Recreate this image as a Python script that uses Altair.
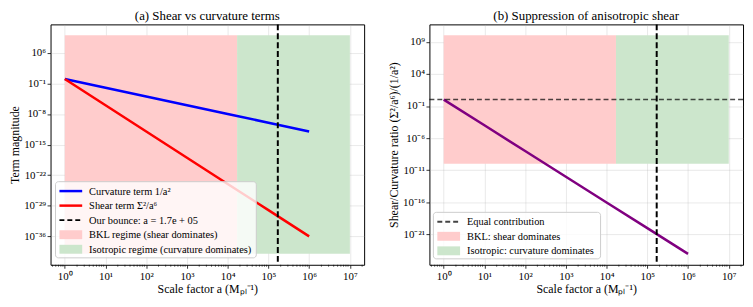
import altair as alt
import pandas as pd

# ---------------- data ----------------
a_vals = [1, 10, 100, 1e3, 1e4, 1e5, 1e6]
curvature = [1, 1e-2, 1e-4, 1e-6, 1e-8, 1e-10, 1e-12]
shear = [1, 1e-6, 1e-12, 1e-18, 1e-24, 1e-30, 1e-36]
ratio = [1, 1e-4, 1e-8, 1e-12, 1e-16, 1e-20, 1e-24]
a_start = 1
a_transition = 1.7e4
a_end = 1e7
a_bounce = 1.7e5
left_shade_y = [1e-40, 1e10]
right_shade_y = [1e-10, 1e10]
equal_ratio = 1

x_tick_exps = [0, 1, 2, 3, 4, 5, 6, 7]
left_y_exps = [6, -1, -8, -15, -22, -29, -36]
right_y_exps = [9, 4, -1, -6, -11, -16, -21]

FONT = "Liberation Serif, Times New Roman, serif"
W, H = 317, 243
PINK = "#ffcccc"
GREEN = "#cce6cc"

SUP = str.maketrans("0123456789-", "⁰¹²³⁴⁵⁶⁷⁸⁹⁻")


def label_expr(exps):
    e = "round(log(datum.value)/LN10)"
    parts = [f"{e} == {k} ? '10{str(k).translate(SUP)}'" for k in exps]
    return " : ".join(parts) + " : ''"


x_scale = alt.Scale(type="log", domain=[10 ** -0.35, 10 ** 7.35], nice=False)
x_axis = alt.Axis(
    values=[10.0 ** k for k in x_tick_exps],
    labelExpr=label_expr(x_tick_exps),
    title="Scale factor a (Mₚₗ⁻¹)",
    grid=True, labelPadding=2, titlePadding=3,
)


def xenc(field="a"):
    return alt.X(f"{field}:Q", scale=x_scale, axis=x_axis)


def yenc(field, scale, axis):
    return alt.Y(f"{field}:Q", scale=scale, axis=axis)


minor_vals = [m * 10.0 ** k for k in range(-1, 8) for m in range(2, 10)
              if 10 ** -0.35 <= m * 10.0 ** k <= 10 ** 7.35]


def panel(title, ytitle, ydom, yexps, lines, shade_y, legend, hline=False, box=None):
    y_scale = alt.Scale(type="log", domain=ydom, nice=False)
    y_axis = alt.Axis(values=[10.0 ** k for k in yexps], labelExpr=label_expr(yexps),
                      title=ytitle, grid=True, labelPadding=1.5, titlePadding=2)
    layers = []
    shade = pd.DataFrame({
        "a": [a_start, a_transition], "a2": [a_transition, a_end],
        "v": [shade_y[0]] * 2, "v2": [shade_y[1]] * 2,
        "region": ["bkl", "iso"],
    })
    layers.append(alt.Chart(shade).mark_rect().encode(
        x=xenc("a"), x2="a2:Q",
        y=yenc("v", y_scale, y_axis), y2="v2:Q",
        color=alt.Color("region:N", scale=alt.Scale(domain=["bkl", "iso"], range=[PINK, GREEN]), legend=None),
    ))
    for vals, col, w in lines:
        df = pd.DataFrame({"a": a_vals, "v": vals})
        layers.append(alt.Chart(df).mark_line(color=col, strokeWidth=w, clip=True).encode(
            x=xenc("a"), y=yenc("v", y_scale, y_axis)))
    if hline:
        layers.append(alt.Chart(pd.DataFrame({"v": [equal_ratio]})).mark_rule(
            color="black", opacity=0.7, strokeWidth=1.5, strokeDash=[5, 3]).encode(
            y=yenc("v", y_scale, y_axis)))
    layers.append(alt.Chart(pd.DataFrame({"a": [a_bounce]})).mark_rule(
        color="black", strokeWidth=2, strokeDash=[6, 3]).encode(x=xenc("a")))
    # minor x ticks
    layers.append(alt.Chart(pd.DataFrame({"a": minor_vals})).mark_rule(
        color="black", strokeWidth=0.6).encode(
        x=xenc("a"), y=alt.value(H), y2=alt.value(H + 2)))
    # legend
    one = pd.DataFrame({"k": [0]})
    bx0, bx1, by0, by1 = box
    layers.append(alt.Chart(one).mark_rect(
        fill="white", fillOpacity=0.8, stroke="#cccccc", strokeWidth=1, cornerRadius=3).encode(
        x=alt.value(bx0), x2=alt.value(bx1), y=alt.value(by0), y2=alt.value(by1)))
    hx0, hx1, tx = bx0 + 4, bx0 + 27, bx0 + 34
    for i, (kind, col, text) in enumerate(legend):
        yy = by0 + 9.5 + i * 14.7
        if kind == "line":
            layers.append(alt.Chart(one).mark_rule(color=col, strokeWidth=2.5).encode(
                x=alt.value(hx0), x2=alt.value(hx1), y=alt.value(yy)))
        elif kind == "dash":
            layers.append(alt.Chart(one).mark_rule(color=col, strokeWidth=1.8, strokeDash=[5, 3]).encode(
                x=alt.value(hx0), x2=alt.value(hx1), y=alt.value(yy)))
        else:
            layers.append(alt.Chart(one).mark_rect(color=col).encode(
                x=alt.value(hx0), x2=alt.value(hx1), y=alt.value(yy - 4.5), y2=alt.value(yy + 4.5)))
        layers.append(alt.Chart(one).mark_text(
            text=text, align="left", baseline="middle", font=FONT, fontSize=10.5, color="black").encode(
            x=alt.value(tx), y=alt.value(yy + 0.5)))
    return alt.layer(*layers).properties(
        width=W, height=H,
        title=alt.TitleParams(title, font=FONT, fontSize=13, fontWeight="normal", offset=0),
    )


left = panel(
    "(a) Shear vs curvature terms", "Term magnitude",
    [10 ** -42.5, 10 ** 12.5], left_y_exps,
    [(curvature, "#0000ff", 2.5), (shear, "#ff0000", 2.5)],
    left_shade_y,
    [("line", "#0000ff", "Curvature term 1/a²"),
     ("line", "#ff0000", "Shear term Σ²/a⁶"),
     ("dash", "black", "Our bounce: a = 1.7e + 05"),
     ("patch", PINK, "BKL regime (shear dominates)"),
     ("patch", GREEN, "Isotropic regime (curvature dominates)")],
    box=(5, 208, 159, 236),
)

right = panel(
    "(b) Suppression of anisotropic shear", "Shear/Curvature ratio (Σ²/a⁶)/(1/a²)",
    [10 ** -25.7, 10 ** 11.7], right_y_exps,
    [(ratio, "#800080", 2.5)],
    right_shade_y,
    [("dash", "#444444", "Equal contribution"),
     ("patch", PINK, "BKL: shear dominates"),
     ("patch", GREEN, "Isotropic: curvature dominates")],
    hline=True,
    box=(4, 173, 190, 237),
)

chart = alt.hconcat(left, right, spacing=22).configure(
    padding={"left": 0, "top": 0, "right": 0, "bottom": 0},
    font=FONT,
).configure_view(
    stroke="black", strokeWidth=1,
).configure_axis(
    labelFont=FONT, labelFontSize=11, labelColor="black",
    titleFont=FONT, titleFontSize=12, titleFontWeight="normal", titleColor="black",
    tickColor="black", tickSize=3.5, tickWidth=0.8, domain=False,
    gridColor="#b0b0b0", gridOpacity=0.35, gridWidth=0.8,
).configure_title(font=FONT)

chart.save("out.html", embed_options={"renderer": "svg", "actions": False})
